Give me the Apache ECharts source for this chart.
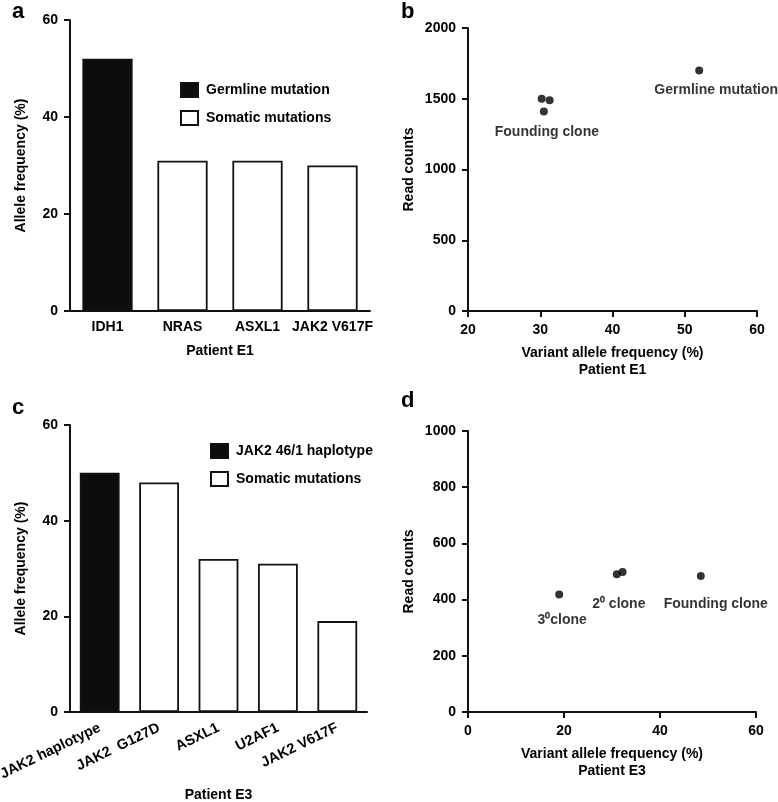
<!DOCTYPE html>
<html>
<head>
<meta charset="utf-8">
<script src="https://cdn.jsdelivr.net/npm/echarts@6/dist/echarts.min.js"></script>
<style>
html,body{margin:0;padding:0;background:#fff;}
#chart{width:778px;height:802px;}
</style>
</head>
<body>
<div id="chart"></div>
<script>
// ---- Data ----
var categoriesA = ['IDH1', 'NRAS', 'ASXL1', 'JAK2 V617F'];
var valuesA = [52, 31, 31, 30];
var germlineA = [true, false, false, false];
var legendA = ['Germline mutation', 'Somatic mutations'];

var vafB = [30.2, 31.3, 30.5, 52];
var readsB = [1500, 1490, 1410, 1700];
var labelsB = ['', '', 'Founding clone', 'Germline mutation'];

var categoriesC = ['JAK2 haplotype', 'JAK2  G127D', 'ASXL1', 'U2AF1', 'JAK2 V617F'];
var valuesC = [50, 48, 32, 31, 19];
var germlineC = [true, false, false, false, false];
var legendC = ['JAK2 46/1 haplotype', 'Somatic mutations'];

var vafD = [19, 31, 32.2, 48.5];
var readsD = [418, 490, 498, 484];
var labelsD = ['3\u2070clone', '2\u2070 clone', '', 'Founding clone'];

var rangeA = [0, 60, 20];
var rangeBx = [20, 60, 10];
var rangeBy = [0, 2000, 500];
var rangeC = [0, 60, 20];
var rangeDx = [0, 60, 20];
var rangeDy = [0, 1000, 200];

// ---- Styles ----
var FONT = "'Liberation Sans', Arial, sans-serif";
var INK = '#000000';
var axisLine = { show: true, onZero: false, lineStyle: { color: '#111', width: 2 } };
function valAxis(idx, r, name, gap, extra) {
  return Object.assign({
    type: 'value', gridIndex: idx, min: r[0], max: r[1], interval: r[2],
    name: name, nameLocation: 'middle', nameGap: gap,
    nameTextStyle: { fontFamily: FONT, fontWeight: 'bold', fontSize: 14, color: INK, lineHeight: 17 },
    axisLine: axisLine,
    axisTick: { show: true, length: 6, lineStyle: { color: '#111', width: 2 } },
    axisLabel: { fontFamily: FONT, fontWeight: 'bold', fontSize: 14, color: INK, margin: 12,
      formatter: function (v) { return String(v); } },
    splitLine: { show: false }
  }, extra || {});
}
function catAxis(idx, cats, name, gap, labelExtra) {
  return {
    type: 'category', gridIndex: idx, data: cats,
    name: name, nameLocation: 'middle', nameGap: gap,
    nameTextStyle: { fontFamily: FONT, fontWeight: 'bold', fontSize: 14, color: INK },
    axisLine: axisLine,
    axisTick: { show: false },
    axisLabel: Object.assign({ fontFamily: FONT, fontWeight: 'bold', fontSize: 14, color: INK, margin: 9, interval: 0 }, labelExtra || {}),
    splitLine: { show: false }
  };
}
function barSeries(name, axisIdx, values, flags, want, width) {
  return {
    type: 'bar', name: name, xAxisIndex: axisIdx, yAxisIndex: axisIdx,
    barWidth: width, barGap: '-100%',
    data: values.map(function (v, i) { return flags[i] === want ? v : '-'; }),
    itemStyle: { color: want ? '#0d0d0d' : '#ffffff', borderColor: '#111', borderWidth: 1.8 },
    emphasis: { disabled: true }
  };
}
function scatterSeries(axisIdx, xs, ys, labels, offsets) {
  return {
    type: 'scatter', xAxisIndex: axisIdx, yAxisIndex: axisIdx,
    symbolSize: 8, itemStyle: { color: '#000' },
    data: xs.map(function (x, i) {
      var d = { value: [x, ys[i]] };
      if (labels[i]) {
        d.label = { show: true, formatter: labels[i], position: 'top', distance: 0, offset: offsets[i],
          fontFamily: FONT, fontWeight: 'bold', fontSize: 14, color: INK };
      }
      return d;
    }),
    emphasis: { disabled: true }
  };
}
var legendBase = {
  orient: 'vertical', itemWidth: 17, itemHeight: 14, itemGap: 12, selectedMode: false, icon: 'rect',
  textStyle: { fontFamily: FONT, fontWeight: 'bold', fontSize: 14, color: INK, padding: [0, 0, 0, 3] }
};
function grid(l, t, w, h) {
  return { left: l, top: t, width: w, height: h, containLabel: false, outerBoundsMode: 'none' };
}

var option = {
  animation: false,
  backgroundColor: '#ffffff',
  grid: [
    grid(70, 20, 300, 291),
    grid(468, 28, 289, 283),
    grid(70, 425, 297, 287),
    grid(468, 431, 288, 281)
  ],
  legend: [
    Object.assign({ left: 175, top: 77, data: legendA }, legendBase),
    Object.assign({ left: 205, top: 438, data: legendC }, legendBase)
  ],
  xAxis: [
    catAxis(0, categoriesA, 'Patient E1', 33),
    valAxis(1, rangeBx, 'Variant allele frequency (%)\nPatient E1', 34),
    catAxis(2, categoriesC, 'Patient E3', 76, { rotate: 26, margin: 15, fontSize: 14.5 }),
    valAxis(3, rangeDx, 'Variant allele frequency (%)\nPatient E3', 34)
  ],
  yAxis: [
    valAxis(0, rangeA, 'Allele frequency (%)', 40),
    valAxis(1, rangeBy, 'Read counts', 50),
    valAxis(2, rangeC, 'Allele frequency (%)', 40),
    valAxis(3, rangeDy, 'Read counts', 50)
  ],
  series: [
    barSeries(legendA[0], 0, valuesA, germlineA, true, '67%'),
    barSeries(legendA[1], 0, valuesA, germlineA, false, '67%'),
    scatterSeries(1, vafB, readsB, labelsB, [null, null, [3, 32], [17, 31]]),
    barSeries(legendC[0], 2, valuesC, germlineC, true, '67%'),
    barSeries(legendC[1], 2, valuesC, germlineC, false, '67%'),
    scatterSeries(3, vafD, readsD, labelsD, [[3, 37], [2, 41], null, [15, 39]])
  ],
  graphic: [
    { type: 'text', left: 12, top: 1, style: { text: 'a', font: 'bold 22px ' + FONT, fill: INK } },
    { type: 'text', left: 401, top: 1, style: { text: 'b', font: 'bold 22px ' + FONT, fill: INK } },
    { type: 'text', left: 12, top: 397, style: { text: 'c', font: 'bold 22px ' + FONT, fill: INK } },
    { type: 'text', left: 401, top: 390, style: { text: 'd', font: 'bold 22px ' + FONT, fill: INK } }
  ]
};
var chart = echarts.init(document.getElementById('chart'), null, { renderer: 'canvas' });
chart.setOption(option);
</script>
</body>
</html>
